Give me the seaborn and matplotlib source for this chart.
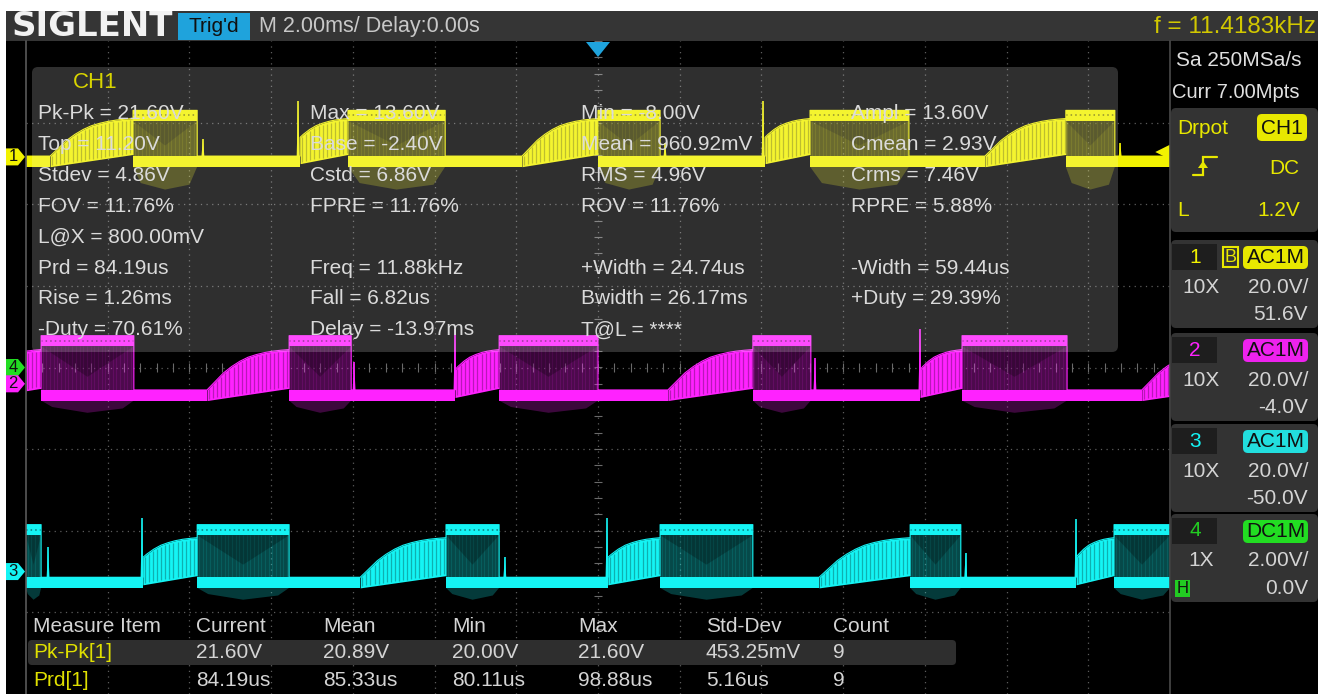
import numpy as np
import pandas as pd
import matplotlib
matplotlib.use("Agg")
import matplotlib.pyplot as plt
from matplotlib.patches import FancyBboxPatch, Polygon, Rectangle
import seaborn as sns

# ---------------- acquisition settings ----------------
TIME_PER_DIV = 2.0          # ms / div
N_HDIV = 14
N_VDIV = 8
TRIG_DELAY = 0.0            # ms
TRIG_LEVEL = 1.2            # V on CH1
SAMPLE_RATE = "Sa 250MSa/s"
MEM_DEPTH = "Curr 7.00Mpts"
FREQ_COUNTER = "f = 11.4183kHz"
TIMEBASE_TEXT = "M 2.00ms/ Delay:0.00s"

CH_LABELS = ["1", "2", "3", "4"]
CH_VDIV = [20.0, 20.0, 20.0, 2.0]          # V / div
CH_OFFSET = [51.6, -4.0, -50.0, 0.0]       # V
CH_PROBE = ["10X", "10X", "10X", "1X"]
CH_COUPLING = ["AC1M", "AC1M", "AC1M", "DC1M"]

# CH1 automatic measurements (V)
CH1_TOP = 11.20
CH1_BASE = -2.40
CH1_MAX = 13.60
CH1_MIN = -8.00

# trace levels in volts: low band, burst top, dip floor, end of ramp
CH1_LEVELS = {"base": CH1_BASE, "top": CH1_TOP, "floor": CH1_MIN, "ramp": 9.4}
CH2_LEVELS = {"base": -4.1, "top": 11.6, "floor": -7.1, "ramp": 8.4}
CH3_LEVELS = {"base": -4.0, "top": 11.3, "floor": -6.9, "ramp": 8.3}

# waveform segments: (kind, start ms, end ms[, ramp phase from, ramp phase to])
CH1_SEGMENTS = [
    ("low", -14.00, -13.41), ("ramp", -13.41, -11.38, 0.0, 1.0), ("burst", -11.38, -9.81),
    ("low", -9.81, -7.29), ("ramp", -7.29, -6.12, 0.25, 1.0), ("burst", -6.12, -3.74),
    ("low", -3.74, -1.86), ("ramp", -1.86, 0.00, 0.0, 1.0), ("burst", 0.00, 1.52),
    ("low", 1.52, 4.09), ("ramp", 4.09, 5.19, 0.25, 1.0), ("burst", 5.19, 7.61),
    ("low", 7.61, 9.47), ("ramp", 9.47, 11.45, 0.0, 1.0), ("burst", 11.45, 12.65),
    ("low", 12.65, 14.00),
]
CH2_SEGMENTS = [
    ("ramp", -14.00, -13.63, 0.8, 1.0), ("burst", -13.63, -11.36), ("low", -11.36, -9.57),
    ("ramp", -9.57, -7.56, 0.0, 1.0), ("burst", -7.56, -6.04), ("low", -6.04, -3.50),
    ("ramp", -3.50, -2.42, 0.25, 1.0), ("burst", -2.42, 0.00), ("low", 0.00, 1.71),
    ("ramp", 1.71, 3.79, 0.0, 1.0), ("burst", 3.79, 5.21), ("low", 5.21, 7.88),
    ("ramp", 7.88, 8.91, 0.25, 1.0), ("burst", 8.91, 11.48), ("low", 11.48, 13.31),
    ("ramp", 13.31, 14.00, 0.0, 0.34),
]
CH3_SEGMENTS = [
    ("burst", -14.00, -13.63), ("low", -13.63, -11.14), ("ramp", -11.14, -9.81, 0.25, 1.0),
    ("burst", -9.81, -7.56), ("low", -7.56, -5.82), ("ramp", -5.82, -3.72, 0.0, 1.0),
    ("burst", -3.72, -2.42), ("low", -2.42, 0.24), ("ramp", 0.24, 1.52, 0.25, 1.0),
    ("burst", 1.52, 3.79), ("low", 3.79, 5.41), ("ramp", 5.41, 7.64, 0.0, 1.0),
    ("burst", 7.64, 8.88), ("low", 8.88, 11.70), ("ramp", 11.70, 12.63, 0.25, 1.0),
    ("burst", 12.63, 14.00),
]

# switching spikes: time (ms) and peak (V)
CH1_SPIKE_T = [-9.67, -7.34, 1.64, 4.04, 12.78]
CH1_SPIKE_V = [4.4, CH1_MAX, 3.5, CH1_MAX, 3.5]
CH2_SPIKE_T = [-5.97, -3.50, 5.31, 7.88]
CH2_SPIKE_V = [5.4, 13.5, 6.3, 13.5]
CH3_SPIKE_T = [-13.46, -11.16, -2.28, 0.22, 9.00, 11.70]
CH3_SPIKE_V = [5.9, 13.2, 3.6, 13.2, 4.6, 13.0]

# normalised shape of the charging ramp, sampled every tenth of its length
RAMP_PHASE = [0.0, 0.1, 0.2, 0.3, 0.4, 0.5, 0.6, 0.7, 0.8, 0.9, 1.0]
RAMP_SHAPE = [0.0, 0.21, 0.42, 0.58, 0.71, 0.81, 0.875, 0.925, 0.96, 0.983, 1.0]

# measurement panel (CH1)
MEAS_ROWS = [
    [f"Pk-Pk = {CH1_MAX - CH1_MIN:.2f}V", f"Max = {CH1_MAX:.2f}V", f"Min = {CH1_MIN:.2f}V", f"Ampl = {CH1_TOP - CH1_BASE:.2f}V"],
    [f"Top = {CH1_TOP:.2f}V", f"Base = {CH1_BASE:.2f}V", "Mean = 960.92mV", "Cmean = 2.93V"],
    ["Stdev = 4.86V", "Cstd = 6.86V", "RMS = 4.96V", "Crms = 7.46V"],
    ["FOV = 11.76%", "FPRE = 11.76%", "ROV = 11.76%", "RPRE = 5.88%"],
    ["L@X = 800.00mV", "", "", ""],
    ["Prd = 84.19us", "Freq = 11.88kHz", "+Width = 24.74us", "-Width = 59.44us"],
    ["Rise = 1.26ms", "Fall = 6.82us", "Bwidth = 26.17ms", "+Duty = 29.39%"],
    ["-Duty = 70.61%", "Delay = -13.97ms", "T@L = ****", ""],
]

# statistics table
TABLE_HEADER = ["Measure Item", "Current", "Mean", "Min", "Max", "Std-Dev", "Count"]
TABLE_ITEMS = ["Pk-Pk[1]", "Prd[1]"]
TABLE_CURRENT = ["21.60V", "84.19us"]
TABLE_MEAN = ["20.89V", "85.33us"]
TABLE_MIN = ["20.00V", "80.11us"]
TABLE_MAX = ["21.60V", "98.88us"]
TABLE_STD = ["453.25mV", "5.16us"]
TABLE_COUNT = ["9", "9"]

# ---------------- style ----------------
sns.set_theme(style="white")
plt.rcParams["font.family"] = ["Liberation Sans", "DejaVu Sans"]

COLORS = ["#f2f200", "#ff22ff", "#14f4f4", "#22dd22"]
BADGE = ["#e8e800", "#ee22ee", "#22dede", "#22dd22"]
TXT = "#d4d4d4"
BAND = 2.6        # thickness of the low band, V
TOP_BAND = 2.4
RAMP_LIFT = 3.0

W, H = 1318, 694
GX0, GX1, GY0, GY1 = 26, 1170, 41, 694
fig = plt.figure(figsize=(W / 100, H / 100), dpi=100, facecolor="white")

# ---------------- trace area ----------------
tr = fig.add_axes([GX0 / W, 1 - GY1 / H, (GX1 - GX0) / W, (GY1 - GY0) / H])
tr.set_facecolor("black")
half_t = N_HDIV * TIME_PER_DIV / 2
tr.set_xlim(-half_t, half_t)
tr.set_ylim(-N_VDIV / 2, N_VDIV / 2)
tr.set_axis_off()
tr.add_patch(Rectangle((-half_t, -4), 2 * half_t, 8, color="black", zorder=0))

grid_kw = dict(color="#5c5c5c", lw=0.9, ls=(0, (1, 3.5)), zorder=0.5)
for t in np.arange(-half_t + TIME_PER_DIV, half_t, TIME_PER_DIV):
    tr.axvline(t, **grid_kw)
for v in range(-3, 4):
    tr.axhline(v, **grid_kw)
tr.vlines(np.arange(-half_t, half_t + 1e-6, TIME_PER_DIV / 5), -0.05, 0.05, color="#6a6a6a", lw=0.8, zorder=0.6)
tr.hlines(np.arange(-4, 4.01, 0.2), -0.1, 0.1, color="#6a6a6a", lw=0.8, zorder=0.6)


def vdiv(v, ch):
    return (np.asarray(v, float) + CH_OFFSET[ch]) / CH_VDIV[ch]


def draw_channel(ch, segments, lv, spike_t, spike_v, z):
    col = COLORS[ch]
    blo, bhi = lv["base"], lv["base"] + BAND
    tlo, thi = lv["top"] - TOP_BAND, lv["top"] + 0.2
    edge = []
    for seg in segments:
        kind, t0, t1 = seg[:3]
        if kind == "low":
            tr.fill_between([t0, t1], vdiv(blo, ch), vdiv(bhi, ch), color=col, lw=0, zorder=z)
            edge += [(t0, bhi), (t1, bhi)]
        elif kind == "burst":
            d = 0.12 * (t1 - t0)
            mid = 0.5 * (t0 + t1)
            tr.add_patch(Polygon([(t0, vdiv(blo, ch)), (t0 + d, vdiv(lv["floor"] * 0.8, ch)),
                                  (mid, vdiv(lv["floor"], ch)), (t1 - d, vdiv(lv["floor"] * 0.85, ch)),
                                  (t1, vdiv(blo, ch))], closed=True, color=col, alpha=0.24, lw=0, zorder=z))
            tr.fill_between([t0, t1], vdiv(bhi, ch), vdiv(tlo, ch), color=col, alpha=0.3, lw=0, zorder=z)
            tr.vlines(np.arange(t0 + 0.04, t1, 0.09), vdiv(bhi, ch), vdiv(tlo, ch),
                      color=col, alpha=0.12, lw=0.8, zorder=z)
            tr.add_patch(Polygon([(t0, vdiv(tlo, ch)), (mid, vdiv(bhi + 0.3 * (tlo - bhi), ch)),
                                  (t1, vdiv(tlo, ch))], closed=True, color="black", alpha=0.25, lw=0, zorder=z))
            tr.fill_between([t0, t1], vdiv(tlo, ch), vdiv(thi, ch), color=col, lw=0, zorder=z)
            tr.hlines(vdiv(lv["top"] - 1.0, ch), t0, t1, color="black", lw=1.1, ls=(0, (1, 2)), alpha=0.5, zorder=z)
            tr.fill_between([t0, t1], vdiv(blo, ch), vdiv(bhi, ch), color=col, lw=0, zorder=z)
            edge += [(t0, thi), (t1, thi)]
        else:
            f0, f1 = seg[3], seg[4]
            u = np.array([f0] + [p for p in RAMP_PHASE if f0 < p < f1] + [f1])
            shp = np.interp(u, RAMP_PHASE, RAMP_SHAPE)
            tt = t0 + (u - f0) / (f1 - f0) * (t1 - t0)
            upper = bhi + (lv["ramp"] - bhi) * shp
            lower = blo + RAMP_LIFT * u
            tr.fill_between(tt, vdiv(lower, ch), vdiv(upper, ch), color=col, lw=0, zorder=z)
            ts = np.arange(t0 + 0.05, t1, 0.1)
            tr.vlines(ts, vdiv(np.interp(ts, tt, lower), ch) + 0.02, vdiv(np.interp(ts, tt, upper), ch) - 0.02,
                      color="black", alpha=0.28, lw=0.9, zorder=z)
            edge += list(zip(tt, upper))
    for ts_, vs_ in zip(spike_t, spike_v):
        tr.add_patch(Polygon([(ts_ - 0.035, vdiv(bhi, ch)), (ts_, vdiv(vs_, ch)), (ts_ + 0.035, vdiv(bhi, ch))],
                             closed=True, color=col, lw=0, zorder=z))
        tr.vlines(ts_, vdiv(bhi, ch), vdiv(vs_, ch), color=col, lw=1.2, zorder=z)
    df = pd.DataFrame(edge, columns=["t", "v"])
    df["y"] = vdiv(df["v"], ch)
    sns.lineplot(data=df, x="t", y="y", ax=tr, color=col, lw=0.8, sort=False, estimator=None, zorder=z)


draw_channel(1, CH2_SEGMENTS, CH2_LEVELS, CH2_SPIKE_T, CH2_SPIKE_V, 2)
draw_channel(2, CH3_SEGMENTS, CH3_LEVELS, CH3_SPIKE_T, CH3_SPIKE_V, 3)
draw_channel(0, CH1_SEGMENTS, CH1_LEVELS, CH1_SPIKE_T, CH1_SPIKE_V, 4)
tr.set_xlim(-half_t, half_t)
tr.set_ylim(-N_VDIV / 2, N_VDIV / 2)

# trigger level marker on the right edge
lvl = float(vdiv(TRIG_LEVEL, 0))
tr.add_patch(Polygon([(half_t, lvl + 0.09), (half_t - 0.36, lvl), (half_t, lvl - 0.09)], closed=True,
                     color=COLORS[0], lw=0, zorder=6, clip_on=False))

# ---------------- overlay (pixel coordinates) ----------------
fg = fig.add_axes([0, 0, 1, 1])
fg.set_xlim(0, W)
fg.set_ylim(H, 0)
fg.set_axis_off()
fg.patch.set_alpha(0)
tr.set_zorder(2)
fg.set_zorder(3)

DIV_PX = (GY1 - GY0) / N_VDIV


def ypx(div):
    return GY0 + (N_VDIV / 2 - div) * DIV_PX


def rbox(x, y, w, h, fc, r=4, **kw):
    fg.add_patch(FancyBboxPatch((x, y), w, h, boxstyle=f"round,pad=0,rounding_size={r}",
                                fc=fc, ec="none", **kw))


def txt(x, y, s, color=TXT, size=15, ha="left", **kw):
    fg.text(x, y, s, color=color, fontsize=size, ha=ha, va="center", **kw)


# left gutter and border
fg.add_patch(Rectangle((6, GY0), GX0 - 6, H - GY0, color="black", lw=0))
fg.plot([GX0, GX0], [GY0, H], color="#5a5a5a", lw=1.2)

# top bar
fg.add_patch(Rectangle((6, 11), W - 6, GY0 - 11, color="#353535", lw=0))
txt(11, 26.5, "SIGLENT", color="#f2f2f2", size=24.5, fontweight="bold", family="DejaVu Sans")
fg.add_patch(Rectangle((178, 12.5), 72, 27, color="#1fa3dc", lw=0))
txt(214, 26.5, "Trig'd", color="#101010", size=15, ha="center")
txt(259, 26.5, TIMEBASE_TEXT, color="#c8c8c8", size=15.5)
txt(1316, 26.5, FREQ_COUNTER, color="#d2c800", size=17.5, ha="right")

# trigger position marker
xt = GX0 + (TRIG_DELAY + half_t) / (2 * half_t) * (GX1 - GX0)
fg.add_patch(Polygon([(xt - 12, GY0 + 1), (xt + 12, GY0 + 1), (xt, GY0 + 16)], closed=True,
                     color="#1fa3dc", lw=0))

# channel ground markers on the left
for ch in [0, 3, 1, 2]:
    y = ypx(float(vdiv(0.0, ch)))
    fg.add_patch(Polygon([(6, y - 8.5), (18, y - 8.5), (25, y), (18, y + 8.5), (6, y + 8.5)], closed=True,
                         color=COLORS[ch], lw=0))
    txt(13, y, CH_LABELS[ch], color="#101010", size=12, ha="center")

# measurement overlay
rbox(32, 67, 1086, 285, "white", r=6, alpha=0.19)
txt(73, 82, "CH1", color="#d8d400", size=16)
col_x = [38, 310, 581, 851]
for i, row in enumerate(MEAS_ROWS):
    for j, s in enumerate(row):
        if s:
            txt(col_x[j], 113.5 + i * 30.9, s, color="#dadada")

# right-hand panel
fg.add_patch(Rectangle((GX1, GY0), W - GX1, H - GY0, color="black", lw=0))
fg.plot([GX1, GX1], [GY0, H], color="#4a4a4a", lw=1.2)
txt(1176, 60, SAMPLE_RATE, color="#e0e0e0", size=15)
txt(1172, 92, MEM_DEPTH, color="#e0e0e0", size=14.5)

rbox(1171, 108, 147, 124, "#333333", r=5)
txt(1177, 128, "Drpot", color=BADGE[0], size=15)
rbox(1257, 114, 50, 27, BADGE[0], r=5)
txt(1282, 128, "CH1", color="#101010", size=15, ha="center")
fg.plot([1193, 1203, 1203, 1217], [175, 175, 157, 157], color=BADGE[0], lw=1.6, solid_joinstyle="miter")
fg.add_patch(Polygon([(1198, 168), (1208, 168), (1203, 161)], closed=True, color=BADGE[0], lw=0))
txt(1299, 168, "DC", color=BADGE[0], size=15, ha="right")
txt(1177, 210, "L", color=BADGE[0], size=15)
txt(1300, 210, f"{TRIG_LEVEL:.1f}V", color=BADGE[0], size=15, ha="right")

box_tops = [240, 333, 424, 514]
for ch, top in enumerate(box_tops):
    rbox(1171, top, 147, 88, "#333333", r=5)
    fg.add_patch(Rectangle((1172, top + 4), 45, 26, color="#1e1e1e", lw=0))
    txt(1195, top + 17, CH_LABELS[ch], color=COLORS[ch] if ch < 3 else "#22cc22", size=15, ha="center")
    if ch == 0:
        fg.add_patch(Rectangle((1223, top + 7), 15, 20, fc="none", ec=BADGE[0], lw=1.5))
        txt(1230.5, top + 17, "B", color=BADGE[0], size=13, ha="center")
    rbox(1243, top + 6, 65, 23, BADGE[ch], r=5)
    txt(1275.5, top + 17.5, CH_COUPLING[ch], color="#101010", size=15, ha="center")
    txt(1182 if ch < 3 else 1188, top + 47, CH_PROBE[ch], color=TXT, size=15)
    vd = f"{CH_VDIV[ch]:.1f}V/" if CH_VDIV[ch] >= 10 else f"{CH_VDIV[ch]:.2f}V/"
    txt(1308, top + 47, vd, color=TXT, size=15, ha="right")
    txt(1308, top + 74, f"{CH_OFFSET[ch]:.1f}V", color=TXT, size=15, ha="right")
fg.add_patch(Rectangle((1175, 580), 15, 17, color="#22cc22", lw=0))
txt(1182.5, 588.5, "H", color="#101010", size=12, ha="center")

# statistics table
tab_x = [33, 196, 323, 452, 578, 706, 833]
for j, s in enumerate(TABLE_HEADER):
    txt(tab_x[j], 627, s, size=15)
rbox(28, 640, 928, 25, "#2e2e2e", r=4)
for i in range(len(TABLE_ITEMS)):
    y = 652.5 + i * 28
    cells = [TABLE_ITEMS[i], TABLE_CURRENT[i], TABLE_MEAN[i], TABLE_MIN[i], TABLE_MAX[i], TABLE_STD[i], TABLE_COUNT[i]]
    for j, s in enumerate(cells):
        txt(tab_x[j], y, s, color="#e0e000" if j == 0 else TXT, size=15)

fig.savefig("out.png", dpi=100, facecolor=fig.get_facecolor())
